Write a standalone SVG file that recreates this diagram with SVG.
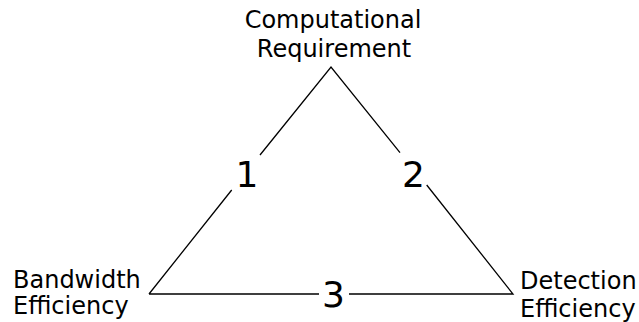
<svg xmlns="http://www.w3.org/2000/svg" width="639" height="322" viewBox="0 0 639 322">
<style>
.lbl{font-family:"DejaVu Sans",sans-serif;font-size:24px;fill:#000}
.num{font-family:"DejaVu Sans",sans-serif;font-size:36px;fill:#000;text-anchor:middle}
.edge{stroke:#000;stroke-width:1.3;fill:none}
</style>
<rect width="639" height="322" fill="#fff"/>
<g id="connectors">
<path class="edge" d="M149,294 L231.7,190 M260,155 L331,67 L400,152.7 M426.7,185 L513,294 L349,294 M319,294 L149,294"/>
<text class="num" x="247" y="187">1</text>
<text class="num" x="413.5" y="187">2</text>
<text class="num" x="333.5" y="307">3</text>
</g>
<g id="node-computational">
<text class="lbl" x="333" y="28" text-anchor="middle">Computational</text>
<text class="lbl" x="334" y="57" text-anchor="middle">Requirement</text>
</g>
<g id="node-bandwidth">
<text class="lbl" x="13" y="288">Bandwidth</text>
<text class="lbl" x="13" y="314">Efficiency</text>
</g>
<g id="node-detection">
<text class="lbl" x="520" y="289">Detection</text>
<text class="lbl" x="520" y="317">Efficiency</text>
</g>
</svg>
